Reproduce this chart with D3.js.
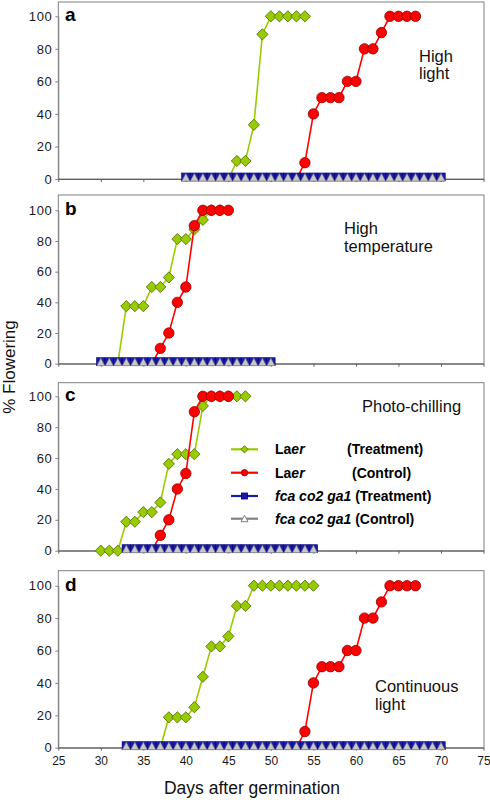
<!DOCTYPE html>
<html><head><meta charset="utf-8">
<script src="https://cdn.jsdelivr.net/npm/d3@7"></script>
<style>
body{margin:0;background:#fff}
svg{display:block}
text{font-family:Arial,"Liberation Sans",sans-serif}
</style>
</head><body>
<svg id="chart" width="490" height="800"></svg>
<script>
// ---------- data ----------
const panelLetters = ["a", "b", "c", "d"];
const conditionText = [["High", "light"], ["High", "temperature"], ["Photo-chilling"], ["Continuous", "light"]];
const xTicks = [25, 30, 35, 40, 45, 50, 55, 60, 65, 70, 75];
const yTicks = [0, 20, 40, 60, 80, 100];
const xTitle = "Days after germination";
const yTitle = "% Flowering";

// Laer (Treatment) – green
const laerTrtDaysA = [45, 46, 47, 48, 49, 50, 51, 52, 53, 54];
const laerTrtPctA  = [0, 11.1, 11.1, 33.3, 88.9, 100, 100, 100, 100, 100];
const laerTrtDaysB = [32, 33, 34, 35, 36, 37, 38, 39, 40, 41, 42, 43, 44];
const laerTrtPctB  = [0, 37.5, 37.5, 37.5, 50, 50, 56.25, 81.25, 81.25, 87.5, 93.75, 100, 100];
const laerTrtDaysC = [30, 31, 32, 33, 34, 35, 36, 37, 38, 39, 40, 41, 42, 43, 44, 45, 46, 47];
const laerTrtPctC  = [0, 0, 0, 18.75, 18.75, 25, 25, 31.25, 56.25, 62.5, 62.5, 62.5, 93.75, 100, 100, 100, 100, 100];
const laerTrtDaysD = [37, 38, 39, 40, 41, 42, 43, 44, 45, 46, 47, 48, 49, 50, 51, 52, 53, 54, 55];
const laerTrtPctD  = [0, 18.75, 18.75, 18.75, 25, 43.75, 62.5, 62.5, 68.75, 87.5, 87.5, 100, 100, 100, 100, 100, 100, 100, 100];

// Laer (Control) – red
const laerCtlDaysA = [53, 54, 55, 56, 57, 58, 59, 60, 61, 62, 63, 64, 65, 66, 67];
const laerCtlPctA  = [0, 10, 40, 50, 50, 50, 60, 60, 80, 80, 90, 100, 100, 100, 100];
const laerCtlDaysB = [36, 37, 38, 39, 40, 41, 42, 43, 44, 45];
const laerCtlPctB  = [0, 10, 20, 40, 50, 90, 100, 100, 100, 100];
const laerCtlDaysC = [36, 37, 38, 39, 40, 41, 42, 43, 44, 45];
const laerCtlPctC  = [0, 10, 20, 40, 50, 90, 100, 100, 100, 100];
const laerCtlDaysD = [53, 54, 55, 56, 57, 58, 59, 60, 61, 62, 63, 64, 65, 66, 67];
const laerCtlPctD  = [0, 10, 40, 50, 50, 50, 60, 60, 80, 80, 90, 100, 100, 100, 100];

// fca co2 ga1 (Treatment and Control) – never flowered
const fcaDaysA = [40, 41, 42, 43, 44, 45, 46, 47, 48, 49, 50, 51, 52, 53, 54, 55, 56, 57, 58, 59, 60, 61, 62, 63, 64, 65, 66, 67, 68, 69, 70];
const fcaPctA  = [0, 0, 0, 0, 0, 0, 0, 0, 0, 0, 0, 0, 0, 0, 0, 0, 0, 0, 0, 0, 0, 0, 0, 0, 0, 0, 0, 0, 0, 0, 0];
const fcaDaysB = [30, 31, 32, 33, 34, 35, 36, 37, 38, 39, 40, 41, 42, 43, 44, 45, 46, 47, 48, 49, 50];
const fcaPctB  = [0, 0, 0, 0, 0, 0, 0, 0, 0, 0, 0, 0, 0, 0, 0, 0, 0, 0, 0, 0, 0];
const fcaDaysC = [33, 34, 35, 36, 37, 38, 39, 40, 41, 42, 43, 44, 45, 46, 47, 48, 49, 50, 51, 52, 53, 54, 55];
const fcaPctC  = [0, 0, 0, 0, 0, 0, 0, 0, 0, 0, 0, 0, 0, 0, 0, 0, 0, 0, 0, 0, 0, 0, 0];
const fcaDaysD = [33, 34, 35, 36, 37, 38, 39, 40, 41, 42, 43, 44, 45, 46, 47, 48, 49, 50, 51, 52, 53, 54, 55, 56, 57, 58, 59, 60, 61, 62, 63, 64, 65, 66, 67, 68, 69, 70];
const fcaPctD  = [0, 0, 0, 0, 0, 0, 0, 0, 0, 0, 0, 0, 0, 0, 0, 0, 0, 0, 0, 0, 0, 0, 0, 0, 0, 0, 0, 0, 0, 0, 0, 0, 0, 0, 0, 0, 0, 0];

const legendNames = [["La", "er", "(Treatment)"], ["La", "er", "(Control)"], ["fca co2 ga1", "", " (Treatment)"], ["fca co2 ga1", "", " (Control)"]];

// ---------- layout ----------
const panelBox = [
  {top: 2, y0: 179, y100: 16.3},
  {top: 195, y0: 363.7, y100: 210.3},
  {top: 382.7, y0: 550.7, y100: 396.3},
  {top: 570.7, y0: 747.7, y100: 585.7}
];
const condPos = [{x: 419, y: 61.5}, {x: 344, y: 234}, {x: 362, y: 412}, {x: 375, y: 692}];
const left = 58.3, right = 484;

const colGreen = "#99cc00", colGreenDark = "#4a6600";
const colRed = "#ff0000", colRedDark = "#8b0000";
const colBlue = "#1a1aa8", colBlueDark = "#000070";
const colGray = "#c8c8c8", colGrayDark = "#808080";
const frameCol = "#808080";

const svg = d3.select("#chart");
const x = d3.scaleLinear().domain([25, 75]).range([left, 483.5]);

const seriesGreen = [[laerTrtDaysA, laerTrtPctA], [laerTrtDaysB, laerTrtPctB], [laerTrtDaysC, laerTrtPctC], [laerTrtDaysD, laerTrtPctD]];
const seriesRed = [[laerCtlDaysA, laerCtlPctA], [laerCtlDaysB, laerCtlPctB], [laerCtlDaysC, laerCtlPctC], [laerCtlDaysD, laerCtlPctD]];
const seriesFca = [[fcaDaysA, fcaPctA], [fcaDaysB, fcaPctB], [fcaDaysC, fcaPctC], [fcaDaysD, fcaPctD]];

const diamond = (s) => `M0,${-s}L${s},0L0,${s}L${-s},0Z`;

panelBox.forEach((pb, i) => {
  const y = d3.scaleLinear().domain([0, 100]).range([pb.y0, pb.y100]);
  const g = svg.append("g");

  // frame
  g.append("rect").attr("x", left).attr("y", pb.top)
    .attr("width", right - left).attr("height", pb.y0 - pb.top)
    .attr("fill", "none").attr("stroke", frameCol).attr("stroke-width", 1);

  // y axis
  const ya = g.append("g").attr("transform", `translate(${left},0)`)
    .call(d3.axisLeft(y).tickValues(yTicks).tickSize(3).tickSizeOuter(0).tickPadding(3));
  ya.select(".domain").attr("stroke", frameCol);
  ya.selectAll(".tick line").attr("stroke", frameCol);
  ya.selectAll(".tick text").attr("font-size", 13).attr("fill", "#1a1a1a")
    .style("font-family", "Arial, 'Liberation Sans', sans-serif").attr("letter-spacing", 0.6);

  // x axis
  const xa = g.append("g").attr("transform", `translate(0,${pb.y0})`)
    .call(d3.axisBottom(x).tickValues(xTicks).tickSize(3).tickSizeOuter(0).tickPadding(6)
      .tickFormat(i === 3 ? d3.format("d") : () => ""));
  xa.select(".domain").attr("stroke", "#606060");
  xa.selectAll(".tick line").attr("stroke", "#606060");
  xa.selectAll(".tick text").attr("font-size", 12).attr("fill", "#1a1a1a")
    .style("font-family", "Arial, 'Liberation Sans', sans-serif");

  const bandStart = d3.min(seriesFca[i][0]);
  const line = d3.line().x(d => x(d[0])).y(d => y(d[1]));

  // Laer treatment (green)
  const gData = d3.zip(seriesGreen[i][0], seriesGreen[i][1]);
  g.append("path").attr("d", line(gData)).attr("fill", "none")
    .attr("stroke", colGreen).attr("stroke-width", 1.6);
  g.selectAll(".gm").data(gData.filter(d => d[1] > 0 || d[0] < bandStart)).enter()
    .append("path").attr("d", diamond(5.6))
    .attr("transform", d => `translate(${x(d[0])},${y(d[1])})`)
    .attr("fill", colGreen).attr("stroke", colGreenDark).attr("stroke-width", 0.8);

  // Laer control (red)
  const rData = d3.zip(seriesRed[i][0], seriesRed[i][1]);
  g.append("path").attr("d", line(rData)).attr("fill", "none")
    .attr("stroke", colRed).attr("stroke-width", 1.6);
  g.selectAll(".rm").data(rData.filter(d => d[1] > 0 || d[0] < bandStart)).enter()
    .append("circle").attr("cx", d => x(d[0])).attr("cy", d => y(d[1])).attr("r", 5.2)
    .attr("fill", colRed).attr("stroke", colRedDark).attr("stroke-width", 0.8);

  // fca treatment (blue squares) & control (gray triangles)
  const fData = d3.zip(seriesFca[i][0], seriesFca[i][1]);
  const w = x(26) - x(25);
  g.append("path").attr("d", line(fData)).attr("fill", "none")
    .attr("stroke", colBlue).attr("stroke-width", 2)
    .attr("transform", "translate(0,-4)");
  g.selectAll(".bm").data(fData).enter().append("rect")
    .attr("x", d => x(d[0]) - w / 2).attr("y", d => y(d[1]) - 6)
    .attr("width", w).attr("height", 8)
    .attr("fill", colBlue).attr("stroke", colBlueDark).attr("stroke-width", 0.6);
  g.selectAll(".tm").data(fData).enter().append("path")
    .attr("d", d => {
      const cx = x(d[0]), cy = y(d[1]);
      return `M${cx - w / 2 + 0.3},${cy + 2}L${cx + w / 2 - 0.3},${cy + 2}L${cx},${cy - 5.5}Z`;
    })
    .attr("fill", colGray).attr("stroke", colGrayDark).attr("stroke-width", 0.6);

  // panel letter
  g.append("text").attr("x", 65).attr("y", pb.y100 + 5).attr("font-size", 19)
    .attr("font-weight", "bold").attr("fill", "#000").text(panelLetters[i]);

  // condition text
  const ct = g.append("text").attr("x", condPos[i].x).attr("y", condPos[i].y)
    .attr("font-size", 16.5).attr("fill", "#111");
  conditionText[i].forEach((t, k) => {
    ct.append("tspan").attr("x", condPos[i].x).attr("dy", k === 0 ? 0 : 17.5).text(t);
  });
});

// legend (in panel c)
const legY = [449.3, 472.7, 496, 518.7];
const legColors = [[colGreen, colGreenDark], [colRed, colRedDark], [colBlue, colBlueDark], [colGrayDark, colGrayDark]];
const lg = svg.append("g");
legY.forEach((ly, k) => {
  lg.append("line").attr("x1", 231).attr("x2", 258).attr("y1", ly).attr("y2", ly)
    .attr("stroke", legColors[k][0]).attr("stroke-width", 2.2);
  const mx = 244.5;
  if (k === 0) lg.append("path").attr("d", diamond(3.6)).attr("transform", `translate(${mx},${ly})`)
    .attr("fill", colGreen).attr("stroke", colGreenDark).attr("stroke-width", 0.8);
  if (k === 1) lg.append("circle").attr("cx", mx).attr("cy", ly).attr("r", 3.2)
    .attr("fill", colRed).attr("stroke", colRedDark).attr("stroke-width", 0.8);
  if (k === 2) lg.append("rect").attr("x", mx - 3).attr("y", ly - 3).attr("width", 6).attr("height", 6)
    .attr("fill", colBlue).attr("stroke", colBlueDark).attr("stroke-width", 0.8);
  if (k === 3) lg.append("path").attr("d", `M${mx - 3.5},${ly + 3}L${mx + 3.5},${ly + 3}L${mx},${ly - 3.5}Z`)
    .attr("fill", "#fff").attr("stroke", colGrayDark).attr("stroke-width", 1);

  const t = lg.append("text").attr("x", 275).attr("y", ly + 5).attr("font-size", 14)
    .attr("font-weight", "bold").attr("fill", "#000");
  const nm = legendNames[k];
  if (k < 2) {
    t.append("tspan").text(nm[0]);
    t.append("tspan").attr("font-style", "italic").text(nm[1]);
    lg.append("text").attr("x", k === 0 ? 347 : 352).attr("y", ly + 5).attr("font-size", 14)
      .attr("font-weight", "bold").attr("fill", "#000").text(nm[2]);
  } else {
    t.append("tspan").attr("font-style", "italic").text(nm[0]);
    t.append("tspan").text(nm[2]);
  }
});

// axis titles
svg.append("text").attr("x", 252).attr("y", 794).attr("text-anchor", "middle")
  .attr("font-size", 17.5).attr("fill", "#111").text(xTitle);
svg.append("text").attr("transform", "translate(15,367) rotate(-90)").attr("text-anchor", "middle")
  .attr("font-size", 17).attr("fill", "#111").text(yTitle);
</script>
</body></html>
